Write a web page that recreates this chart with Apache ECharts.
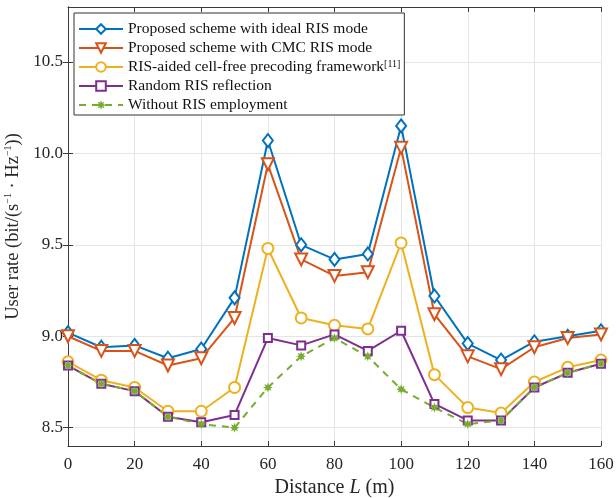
<!DOCTYPE html>
<html>
<head>
<meta charset="utf-8">
<script src="https://cdn.jsdelivr.net/npm/echarts@6/dist/echarts.min.js"></script>
<style>
html,body{margin:0;padding:0;background:#fff;}
#chart{width:616px;height:498px;}
</style>
</head>
<body>
<div id="chart"></div>
<script>
const distances = [0,10,20,30,40,50,60,70,80,90,100,110,120,130,140,150,160];
const idealRIS  = [9.02,8.94,8.95,8.88,8.93,9.21,10.07,9.50,9.42,9.45,10.15,9.22,8.96,8.87,8.97,9.00,9.03];
const cmcRIS    = [9.00,8.92,8.92,8.84,8.88,9.10,9.94,9.42,9.33,9.35,10.03,9.12,8.89,8.82,8.94,8.99,9.01];
const cellFree  = [8.86,8.76,8.72,8.59,8.59,8.72,9.48,9.10,9.06,9.04,9.51,8.79,8.61,8.58,8.75,8.83,8.87];
const randomRIS = [8.84,8.74,8.70,8.56,8.53,8.57,8.99,8.95,9.01,8.92,9.03,8.63,8.54,8.54,8.72,8.80,8.85];
const withoutRIS= [8.84,8.74,8.70,8.56,8.52,8.50,8.72,8.89,8.99,8.89,8.71,8.61,8.52,8.54,8.72,8.80,8.85];
const seriesNames = [
  'Proposed scheme with ideal RIS mode',
  'Proposed scheme with CMC RIS mode',
  'RIS-aided cell-free precoding framework',
  'Random RIS reflection',
  'Without RIS employment'
];
const yTicks = [8.5, 9.0, 9.5, 10.0, 10.5];

const FONT = '"Liberation Serif","Times New Roman",serif';
const AX = '#3a3a3a';
const TXT = '#262626';

function starPath(){
  let pts = [];
  const n = 8;
  for (let i = 0; i < n*2; i++){
    const r = (i % 2 === 0) ? 10 : 5;
    const a = Math.PI * i / n - Math.PI/2;
    pts.push((10 + r*Math.cos(a)).toFixed(2) + ' ' + (10 + r*Math.sin(a)).toFixed(2));
  }
  return 'path://M' + pts.join(' L') + ' Z';
}

const pair = arr => distances.map((d,i)=>[d, arr[i]]);

const chart = echarts.init(document.getElementById('chart'), null, {renderer:'canvas'});

function mk(name, arr, color, symbol, size, extra){
  return Object.assign({
    name: name,
    type: 'line',
    data: pair(arr),
    symbol: symbol,
    symbolSize: size,
    showSymbol: true,
    lineStyle: {color: color, width: 2},
    itemStyle: {color: color, borderColor: color, borderWidth: 1.6},
    emphasis: {disabled: true},
    animation: false
  }, extra || {});
}

const option = {
  backgroundColor: '#fff',
  animation: false,
  textStyle: {fontFamily: FONT},
  grid: {left: 68, right: 15, top: 7, bottom: 52, containLabel: false, outerBoundsMode: 'none'},
  legend: {
    orient: 'vertical',
    left: 74, top: 13,
    padding: [8, 4, 2, 4],
    itemGap: 3,
    itemWidth: 44,
    itemHeight: 12,
    backgroundColor: '#fff',
    borderColor: '#333',
    borderWidth: 1,
    borderRadius: 0,
    data: seriesNames,
    textStyle: {
      fontFamily: FONT, fontSize: 15.5, color: '#111', lineHeight: 16,
      rich: {
        n: {fontFamily: FONT, fontSize: 15.5, color: '#111', lineHeight: 16},
        sup: {fontFamily: FONT, fontSize: 10, color: '#111', verticalAlign: 'top', padding: [0,0,7,0]}
      }
    },
    formatter: function(name){
      if (name === seriesNames[2]) return '{n|' + name + '}{sup|[11]}';
      return name;
    }
  },
  xAxis: [{
    type: 'value', min: 0, max: 160, interval: 20,
    name: '{a|Distance }{i|L}{a| (m)}',
    nameLocation: 'middle', nameGap: 31,
    nameTextStyle: {
      fontFamily: FONT, fontSize: 20, color: TXT,
      rich: {
        a: {fontFamily: FONT, fontSize: 20, color: TXT},
        i: {fontFamily: FONT, fontSize: 20, color: TXT, fontStyle: 'italic'}
      }
    },
    axisLine: {show: true, lineStyle: {color: AX, width: 1}},
    axisTick: {show: true, inside: true, length: 5, lineStyle: {color: AX}},
    axisLabel: {fontFamily: FONT, fontSize: 17, color: TXT, margin: 10},
    splitLine: {show: true, lineStyle: {color: '#e5e5e5', width: 1}}
  },{
    type: 'value', min: 0, max: 160, interval: 20, position: 'top',
    axisLine: {show: true, lineStyle: {color: AX, width: 1}},
    axisTick: {show: true, inside: true, length: 5, lineStyle: {color: AX}},
    axisLabel: {show: false},
    splitLine: {show: false}
  }],
  yAxis: [{
    type: 'value', min: 8.4, max: 10.8,
    name: '{a|User rate (bit/(s}{s|−1}{a| · Hz}{s|−1}{a|))}',
    nameLocation: 'middle', nameGap: 34,
    nameTextStyle: {
      fontFamily: FONT, fontSize: 18.5, color: TXT,
      rich: {
        a: {fontFamily: FONT, fontSize: 18.5, color: TXT},
        s: {fontFamily: FONT, fontSize: 10, color: TXT, verticalAlign: 'top', padding: [0,0,8,0]}
      }
    },
    axisLine: {show: true, lineStyle: {color: AX, width: 1}},
    axisTick: {show: true, inside: true, length: 5, lineStyle: {color: AX}, customValues: yTicks},
    axisLabel: {fontFamily: FONT, fontSize: 17, color: TXT, margin: 5, customValues: yTicks,
      formatter: v => v.toFixed(1)},
    splitLine: {show: true, lineStyle: {color: '#e5e5e5', width: 1}}
  },{
    type: 'value', min: 8.4, max: 10.8, position: 'right',
    axisLine: {show: true, lineStyle: {color: AX, width: 1}},
    axisTick: {show: true, inside: true, length: 5, lineStyle: {color: AX}, customValues: yTicks},
    axisLabel: {show: false},
    splitLine: {show: false}
  }],
  series: [
    mk(seriesNames[0], idealRIS, '#0072BD', 'emptyDiamond', [10, 13]),
    mk(seriesNames[1], cmcRIS, '#D95319', 'emptyTriangle', 12, {symbolRotate: 180}),
    mk(seriesNames[2], cellFree, '#EDB120', 'emptyCircle', 11),
    mk(seriesNames[3], randomRIS, '#7E2F8E', 'emptyRect', 8),
    mk(seriesNames[4], withoutRIS, '#77AC30', starPath(), 10,
       {lineStyle: {color: '#77AC30', width: 2, type: [7, 6]}, itemStyle: {color: '#77AC30', borderWidth: 0}})
  ]
};
chart.setOption(option);
</script>
</body>
</html>
